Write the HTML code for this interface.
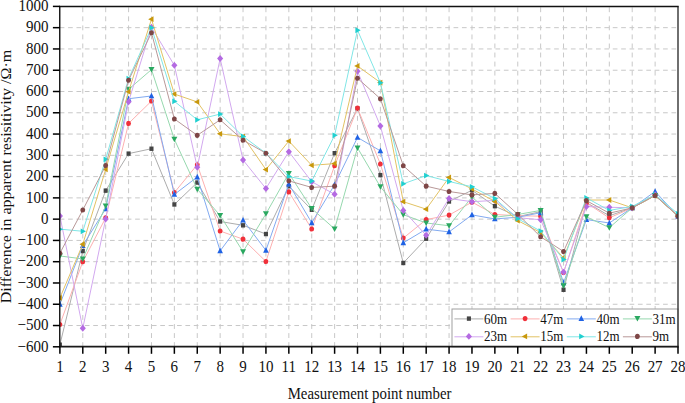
<!DOCTYPE html><html><head><meta charset="utf-8"><style>html,body{margin:0;padding:0;background:#fff;}svg{display:block;}text{font-family:"Liberation Serif",serif;fill:#111;}</style></head><body><svg width="685" height="403" viewBox="0 0 685 403"><rect width="685" height="403" fill="#fff"/><g stroke="#c8c8c8" stroke-width="1" stroke-dasharray="4.9 4.15"><line x1="82.79" y1="7.3" x2="82.79" y2="346.80"/><line x1="105.69" y1="7.3" x2="105.69" y2="346.80"/><line x1="128.58" y1="7.3" x2="128.58" y2="346.80"/><line x1="151.47" y1="7.3" x2="151.47" y2="346.80"/><line x1="174.36" y1="7.3" x2="174.36" y2="346.80"/><line x1="197.26" y1="7.3" x2="197.26" y2="346.80"/><line x1="220.15" y1="7.3" x2="220.15" y2="346.80"/><line x1="243.04" y1="7.3" x2="243.04" y2="346.80"/><line x1="265.93" y1="7.3" x2="265.93" y2="346.80"/><line x1="288.83" y1="7.3" x2="288.83" y2="346.80"/><line x1="311.72" y1="7.3" x2="311.72" y2="346.80"/><line x1="334.61" y1="7.3" x2="334.61" y2="346.80"/><line x1="357.50" y1="7.3" x2="357.50" y2="346.80"/><line x1="380.40" y1="7.3" x2="380.40" y2="346.80"/><line x1="403.29" y1="7.3" x2="403.29" y2="346.80"/><line x1="426.18" y1="7.3" x2="426.18" y2="346.80"/><line x1="449.07" y1="7.3" x2="449.07" y2="346.80"/><line x1="471.97" y1="7.3" x2="471.97" y2="346.80"/><line x1="494.86" y1="7.3" x2="494.86" y2="346.80"/><line x1="517.75" y1="7.3" x2="517.75" y2="346.80"/><line x1="540.64" y1="7.3" x2="540.64" y2="346.80"/><line x1="563.54" y1="7.3" x2="563.54" y2="346.80"/><line x1="586.43" y1="7.3" x2="586.43" y2="346.80"/><line x1="609.32" y1="7.3" x2="609.32" y2="346.80"/><line x1="632.21" y1="7.3" x2="632.21" y2="346.80"/><line x1="655.11" y1="7.3" x2="655.11" y2="346.80"/></g><g stroke="#c8c8c8" stroke-width="1" stroke-dasharray="4.7 3.68"><line x1="59.7" y1="325.53" x2="678.00" y2="325.53"/><line x1="59.7" y1="304.25" x2="678.00" y2="304.25"/><line x1="59.7" y1="282.98" x2="678.00" y2="282.98"/><line x1="59.7" y1="261.70" x2="678.00" y2="261.70"/><line x1="59.7" y1="240.43" x2="678.00" y2="240.43"/><line x1="59.7" y1="219.15" x2="678.00" y2="219.15"/><line x1="59.7" y1="197.88" x2="678.00" y2="197.88"/><line x1="59.7" y1="176.60" x2="678.00" y2="176.60"/><line x1="59.7" y1="155.33" x2="678.00" y2="155.33"/><line x1="59.7" y1="134.05" x2="678.00" y2="134.05"/><line x1="59.7" y1="112.78" x2="678.00" y2="112.78"/><line x1="59.7" y1="91.50" x2="678.00" y2="91.50"/><line x1="59.7" y1="70.23" x2="678.00" y2="70.23"/><line x1="59.7" y1="48.95" x2="678.00" y2="48.95"/><line x1="59.7" y1="27.67" x2="678.00" y2="27.67"/></g><defs><clipPath id="pc"><rect x="59.9" y="6.4" width="618.10" height="340.40"/></clipPath></defs><g clip-path="url(#pc)"><polyline points="59.90,344.67 82.79,251.06 105.69,190.64 128.58,153.62 151.47,148.73 174.36,204.47 197.26,182.56 220.15,221.49 243.04,225.32 265.93,234.04 288.83,186.17 311.72,209.79 334.61,153.20 357.50,108.52 380.40,175.11 403.29,262.98 426.18,238.72 449.07,201.49 471.97,190.22 494.86,206.17 517.75,216.60 540.64,211.70 563.54,289.78 586.43,202.56 609.32,215.75 632.21,207.87 655.11,195.53 678.00,216.17" fill="none" stroke="#acacac" stroke-width="1"/><rect x="57.85" y="342.47" width="4.10" height="4.40" fill="#444444"/><rect x="80.74" y="248.86" width="4.10" height="4.40" fill="#444444"/><rect x="103.64" y="188.44" width="4.10" height="4.40" fill="#444444"/><rect x="126.53" y="151.42" width="4.10" height="4.40" fill="#444444"/><rect x="149.42" y="146.53" width="4.10" height="4.40" fill="#444444"/><rect x="172.31" y="202.27" width="4.10" height="4.40" fill="#444444"/><rect x="195.21" y="180.36" width="4.10" height="4.40" fill="#444444"/><rect x="218.10" y="219.29" width="4.10" height="4.40" fill="#444444"/><rect x="240.99" y="223.12" width="4.10" height="4.40" fill="#444444"/><rect x="263.88" y="231.84" width="4.10" height="4.40" fill="#444444"/><rect x="286.78" y="183.97" width="4.10" height="4.40" fill="#444444"/><rect x="309.67" y="207.59" width="4.10" height="4.40" fill="#444444"/><rect x="332.56" y="151.00" width="4.10" height="4.40" fill="#444444"/><rect x="355.45" y="106.32" width="4.10" height="4.40" fill="#444444"/><rect x="378.35" y="172.91" width="4.10" height="4.40" fill="#444444"/><rect x="401.24" y="260.78" width="4.10" height="4.40" fill="#444444"/><rect x="424.13" y="236.52" width="4.10" height="4.40" fill="#444444"/><rect x="447.02" y="199.29" width="4.10" height="4.40" fill="#444444"/><rect x="469.92" y="188.02" width="4.10" height="4.40" fill="#444444"/><rect x="492.81" y="203.97" width="4.10" height="4.40" fill="#444444"/><rect x="515.70" y="214.40" width="4.10" height="4.40" fill="#444444"/><rect x="538.59" y="209.50" width="4.10" height="4.40" fill="#444444"/><rect x="561.49" y="287.58" width="4.10" height="4.40" fill="#444444"/><rect x="584.38" y="200.36" width="4.10" height="4.40" fill="#444444"/><rect x="607.27" y="213.55" width="4.10" height="4.40" fill="#444444"/><rect x="630.16" y="205.67" width="4.10" height="4.40" fill="#444444"/><rect x="653.06" y="193.33" width="4.10" height="4.40" fill="#444444"/><rect x="675.95" y="213.97" width="4.10" height="4.40" fill="#444444"/><polyline points="59.90,324.46 82.79,261.70 105.69,217.87 128.58,123.41 151.47,101.07 174.36,192.56 197.26,164.69 220.15,231.06 243.04,239.15 265.93,261.49 288.83,191.92 311.72,228.94 334.61,165.75 357.50,108.09 380.40,164.05 403.29,238.08 426.18,219.58 449.07,215.11 471.97,202.13 494.86,214.47 517.75,215.75 540.64,216.17 563.54,272.55 586.43,202.98 609.32,217.87 632.21,207.87 655.11,195.53 678.00,216.17" fill="none" stroke="#fdb0b0" stroke-width="1"/><ellipse cx="59.90" cy="324.46" rx="2.40" ry="2.55" fill="#f0303a"/><ellipse cx="82.79" cy="261.70" rx="2.40" ry="2.55" fill="#f0303a"/><ellipse cx="105.69" cy="217.87" rx="2.40" ry="2.55" fill="#f0303a"/><ellipse cx="128.58" cy="123.41" rx="2.40" ry="2.55" fill="#f0303a"/><ellipse cx="151.47" cy="101.07" rx="2.40" ry="2.55" fill="#f0303a"/><ellipse cx="174.36" cy="192.56" rx="2.40" ry="2.55" fill="#f0303a"/><ellipse cx="197.26" cy="164.69" rx="2.40" ry="2.55" fill="#f0303a"/><ellipse cx="220.15" cy="231.06" rx="2.40" ry="2.55" fill="#f0303a"/><ellipse cx="243.04" cy="239.15" rx="2.40" ry="2.55" fill="#f0303a"/><ellipse cx="265.93" cy="261.49" rx="2.40" ry="2.55" fill="#f0303a"/><ellipse cx="288.83" cy="191.92" rx="2.40" ry="2.55" fill="#f0303a"/><ellipse cx="311.72" cy="228.94" rx="2.40" ry="2.55" fill="#f0303a"/><ellipse cx="334.61" cy="165.75" rx="2.40" ry="2.55" fill="#f0303a"/><ellipse cx="357.50" cy="108.09" rx="2.40" ry="2.55" fill="#f0303a"/><ellipse cx="380.40" cy="164.05" rx="2.40" ry="2.55" fill="#f0303a"/><ellipse cx="403.29" cy="238.08" rx="2.40" ry="2.55" fill="#f0303a"/><ellipse cx="426.18" cy="219.58" rx="2.40" ry="2.55" fill="#f0303a"/><ellipse cx="449.07" cy="215.11" rx="2.40" ry="2.55" fill="#f0303a"/><ellipse cx="471.97" cy="202.13" rx="2.40" ry="2.55" fill="#f0303a"/><ellipse cx="494.86" cy="214.47" rx="2.40" ry="2.55" fill="#f0303a"/><ellipse cx="517.75" cy="215.75" rx="2.40" ry="2.55" fill="#f0303a"/><ellipse cx="540.64" cy="216.17" rx="2.40" ry="2.55" fill="#f0303a"/><ellipse cx="563.54" cy="272.55" rx="2.40" ry="2.55" fill="#f0303a"/><ellipse cx="586.43" cy="202.98" rx="2.40" ry="2.55" fill="#f0303a"/><ellipse cx="609.32" cy="217.87" rx="2.40" ry="2.55" fill="#f0303a"/><ellipse cx="632.21" cy="207.87" rx="2.40" ry="2.55" fill="#f0303a"/><ellipse cx="655.11" cy="195.53" rx="2.40" ry="2.55" fill="#f0303a"/><ellipse cx="678.00" cy="216.17" rx="2.40" ry="2.55" fill="#f0303a"/><polyline points="59.90,304.25 82.79,245.53 105.69,208.73 128.58,98.73 151.47,95.97 174.36,194.47 197.26,177.03 220.15,250.85 243.04,220.21 265.93,250.42 288.83,184.05 311.72,222.77 334.61,184.68 357.50,137.45 380.40,150.86 403.29,242.77 426.18,229.15 449.07,231.92 471.97,214.90 494.86,218.94 517.75,217.24 540.64,212.77 563.54,282.76 586.43,219.58 609.32,222.98 632.21,207.87 655.11,191.49 678.00,216.17" fill="none" stroke="#82aaf0" stroke-width="1"/><path d="M59.90 300.95L62.70 306.65L57.10 306.65Z" fill="#1f62e4"/><path d="M82.79 242.23L85.59 247.93L79.99 247.93Z" fill="#1f62e4"/><path d="M105.69 205.43L108.49 211.13L102.89 211.13Z" fill="#1f62e4"/><path d="M128.58 95.43L131.38 101.13L125.78 101.13Z" fill="#1f62e4"/><path d="M151.47 92.67L154.27 98.37L148.67 98.37Z" fill="#1f62e4"/><path d="M174.36 191.17L177.16 196.87L171.56 196.87Z" fill="#1f62e4"/><path d="M197.26 173.73L200.06 179.43L194.46 179.43Z" fill="#1f62e4"/><path d="M220.15 247.55L222.95 253.25L217.35 253.25Z" fill="#1f62e4"/><path d="M243.04 216.91L245.84 222.61L240.24 222.61Z" fill="#1f62e4"/><path d="M265.93 247.12L268.73 252.82L263.13 252.82Z" fill="#1f62e4"/><path d="M288.83 180.75L291.63 186.45L286.03 186.45Z" fill="#1f62e4"/><path d="M311.72 219.47L314.52 225.17L308.92 225.17Z" fill="#1f62e4"/><path d="M334.61 181.38L337.41 187.08L331.81 187.08Z" fill="#1f62e4"/><path d="M357.50 134.15L360.30 139.85L354.70 139.85Z" fill="#1f62e4"/><path d="M380.40 147.56L383.20 153.26L377.60 153.26Z" fill="#1f62e4"/><path d="M403.29 239.47L406.09 245.17L400.49 245.17Z" fill="#1f62e4"/><path d="M426.18 225.85L428.98 231.55L423.38 231.55Z" fill="#1f62e4"/><path d="M449.07 228.62L451.87 234.32L446.27 234.32Z" fill="#1f62e4"/><path d="M471.97 211.60L474.77 217.30L469.17 217.30Z" fill="#1f62e4"/><path d="M494.86 215.64L497.66 221.34L492.06 221.34Z" fill="#1f62e4"/><path d="M517.75 213.94L520.55 219.64L514.95 219.64Z" fill="#1f62e4"/><path d="M540.64 209.47L543.44 215.17L537.84 215.17Z" fill="#1f62e4"/><path d="M563.54 279.46L566.34 285.16L560.74 285.16Z" fill="#1f62e4"/><path d="M586.43 216.28L589.23 221.98L583.63 221.98Z" fill="#1f62e4"/><path d="M609.32 219.68L612.12 225.38L606.52 225.38Z" fill="#1f62e4"/><path d="M632.21 204.57L635.01 210.27L629.41 210.27Z" fill="#1f62e4"/><path d="M655.11 188.19L657.91 193.89L652.31 193.89Z" fill="#1f62e4"/><path d="M678.00 212.87L680.80 218.57L675.20 218.57Z" fill="#1f62e4"/><polyline points="59.90,255.96 82.79,258.93 105.69,205.96 128.58,89.37 151.47,69.59 174.36,139.37 197.26,189.15 220.15,215.53 243.04,251.70 265.93,213.83 288.83,173.41 311.72,208.51 334.61,228.94 357.50,147.88 380.40,186.81 403.29,214.68 426.18,222.98 449.07,225.75 471.97,197.02 494.86,217.24 517.75,214.47 540.64,210.43 563.54,285.74 586.43,216.81 609.32,227.66 632.21,207.87 655.11,195.53 678.00,216.17" fill="none" stroke="#96d8ae" stroke-width="1"/><path d="M59.90 258.96L62.90 253.46L56.90 253.46Z" fill="#2aa860"/><path d="M82.79 261.93L85.79 256.43L79.79 256.43Z" fill="#2aa860"/><path d="M105.69 208.96L108.69 203.46L102.69 203.46Z" fill="#2aa860"/><path d="M128.58 92.37L131.58 86.87L125.58 86.87Z" fill="#2aa860"/><path d="M151.47 72.59L154.47 67.09L148.47 67.09Z" fill="#2aa860"/><path d="M174.36 142.37L177.36 136.87L171.36 136.87Z" fill="#2aa860"/><path d="M197.26 192.15L200.26 186.65L194.26 186.65Z" fill="#2aa860"/><path d="M220.15 218.53L223.15 213.03L217.15 213.03Z" fill="#2aa860"/><path d="M243.04 254.70L246.04 249.20L240.04 249.20Z" fill="#2aa860"/><path d="M265.93 216.83L268.93 211.33L262.93 211.33Z" fill="#2aa860"/><path d="M288.83 176.41L291.83 170.91L285.83 170.91Z" fill="#2aa860"/><path d="M311.72 211.51L314.72 206.01L308.72 206.01Z" fill="#2aa860"/><path d="M334.61 231.94L337.61 226.44L331.61 226.44Z" fill="#2aa860"/><path d="M357.50 150.88L360.50 145.38L354.50 145.38Z" fill="#2aa860"/><path d="M380.40 189.81L383.40 184.31L377.40 184.31Z" fill="#2aa860"/><path d="M403.29 217.68L406.29 212.18L400.29 212.18Z" fill="#2aa860"/><path d="M426.18 225.98L429.18 220.48L423.18 220.48Z" fill="#2aa860"/><path d="M449.07 228.75L452.07 223.25L446.07 223.25Z" fill="#2aa860"/><path d="M471.97 200.02L474.97 194.52L468.97 194.52Z" fill="#2aa860"/><path d="M494.86 220.24L497.86 214.74L491.86 214.74Z" fill="#2aa860"/><path d="M517.75 217.47L520.75 211.97L514.75 211.97Z" fill="#2aa860"/><path d="M540.64 213.43L543.64 207.93L537.64 207.93Z" fill="#2aa860"/><path d="M563.54 288.74L566.54 283.24L560.54 283.24Z" fill="#2aa860"/><path d="M586.43 219.81L589.43 214.31L583.43 214.31Z" fill="#2aa860"/><path d="M609.32 230.66L612.32 225.16L606.32 225.16Z" fill="#2aa860"/><path d="M632.21 210.87L635.21 205.37L629.21 205.37Z" fill="#2aa860"/><path d="M655.11 198.53L658.11 193.03L652.11 193.03Z" fill="#2aa860"/><path d="M678.00 219.17L681.00 213.67L675.00 213.67Z" fill="#2aa860"/><polyline points="59.90,215.96 82.79,328.29 105.69,218.94 128.58,101.71 151.47,27.25 174.36,65.33 197.26,167.24 220.15,58.52 243.04,160.01 265.93,188.51 288.83,151.71 311.72,181.71 334.61,194.26 357.50,71.29 380.40,125.97 403.29,210.43 426.18,235.32 449.07,198.51 471.97,201.70 494.86,200.43 517.75,217.66 540.64,219.79 563.54,272.12 586.43,206.60 609.32,207.24 632.21,207.87 655.11,194.68 678.00,216.17" fill="none" stroke="#d2a8ef" stroke-width="1"/><path d="M59.90 212.51L62.95 215.96L59.90 219.41L56.85 215.96Z" fill="#b46ae2"/><path d="M82.79 324.84L85.84 328.29L82.79 331.74L79.74 328.29Z" fill="#b46ae2"/><path d="M105.69 215.49L108.74 218.94L105.69 222.39L102.64 218.94Z" fill="#b46ae2"/><path d="M128.58 98.26L131.63 101.71L128.58 105.16L125.53 101.71Z" fill="#b46ae2"/><path d="M151.47 23.80L154.52 27.25L151.47 30.70L148.42 27.25Z" fill="#b46ae2"/><path d="M174.36 61.88L177.41 65.33L174.36 68.78L171.31 65.33Z" fill="#b46ae2"/><path d="M197.26 163.79L200.31 167.24L197.26 170.69L194.21 167.24Z" fill="#b46ae2"/><path d="M220.15 55.07L223.20 58.52L220.15 61.97L217.10 58.52Z" fill="#b46ae2"/><path d="M243.04 156.56L246.09 160.01L243.04 163.46L239.99 160.01Z" fill="#b46ae2"/><path d="M265.93 185.06L268.98 188.51L265.93 191.96L262.88 188.51Z" fill="#b46ae2"/><path d="M288.83 148.26L291.88 151.71L288.83 155.16L285.78 151.71Z" fill="#b46ae2"/><path d="M311.72 178.26L314.77 181.71L311.72 185.16L308.67 181.71Z" fill="#b46ae2"/><path d="M334.61 190.81L337.66 194.26L334.61 197.71L331.56 194.26Z" fill="#b46ae2"/><path d="M357.50 67.84L360.55 71.29L357.50 74.74L354.45 71.29Z" fill="#b46ae2"/><path d="M380.40 122.52L383.45 125.97L380.40 129.42L377.35 125.97Z" fill="#b46ae2"/><path d="M403.29 206.98L406.34 210.43L403.29 213.88L400.24 210.43Z" fill="#b46ae2"/><path d="M426.18 231.87L429.23 235.32L426.18 238.77L423.13 235.32Z" fill="#b46ae2"/><path d="M449.07 195.06L452.12 198.51L449.07 201.96L446.02 198.51Z" fill="#b46ae2"/><path d="M471.97 198.25L475.02 201.70L471.97 205.15L468.92 201.70Z" fill="#b46ae2"/><path d="M494.86 196.98L497.91 200.43L494.86 203.88L491.81 200.43Z" fill="#b46ae2"/><path d="M517.75 214.21L520.80 217.66L517.75 221.11L514.70 217.66Z" fill="#b46ae2"/><path d="M540.64 216.34L543.69 219.79L540.64 223.24L537.59 219.79Z" fill="#b46ae2"/><path d="M563.54 268.67L566.59 272.12L563.54 275.57L560.49 272.12Z" fill="#b46ae2"/><path d="M586.43 203.15L589.48 206.60L586.43 210.05L583.38 206.60Z" fill="#b46ae2"/><path d="M609.32 203.79L612.37 207.24L609.32 210.69L606.27 207.24Z" fill="#b46ae2"/><path d="M632.21 204.42L635.26 207.87L632.21 211.32L629.16 207.87Z" fill="#b46ae2"/><path d="M655.11 191.23L658.16 194.68L655.11 198.13L652.06 194.68Z" fill="#b46ae2"/><path d="M678.00 212.72L681.05 216.17L678.00 219.62L674.95 216.17Z" fill="#b46ae2"/><polyline points="59.90,297.87 82.79,244.25 105.69,169.37 128.58,91.71 151.47,19.17 174.36,94.05 197.26,101.92 220.15,133.84 243.04,136.60 265.93,169.58 288.83,141.07 311.72,165.32 334.61,163.62 357.50,65.97 380.40,82.56 403.29,201.70 426.18,209.15 449.07,177.45 471.97,188.94 494.86,201.49 517.75,220.64 540.64,232.55 563.54,257.87 586.43,200.00 609.32,200.00 632.21,207.87 655.11,195.53 678.00,216.17" fill="none" stroke="#e2c264" stroke-width="1"/><path d="M56.60 297.87L61.90 294.97L61.90 300.77Z" fill="#c8980c"/><path d="M79.49 244.25L84.79 241.35L84.79 247.15Z" fill="#c8980c"/><path d="M102.39 169.37L107.69 166.47L107.69 172.27Z" fill="#c8980c"/><path d="M125.28 91.71L130.58 88.81L130.58 94.61Z" fill="#c8980c"/><path d="M148.17 19.17L153.47 16.27L153.47 22.07Z" fill="#c8980c"/><path d="M171.06 94.05L176.36 91.15L176.36 96.95Z" fill="#c8980c"/><path d="M193.96 101.92L199.26 99.02L199.26 104.82Z" fill="#c8980c"/><path d="M216.85 133.84L222.15 130.94L222.15 136.74Z" fill="#c8980c"/><path d="M239.74 136.60L245.04 133.70L245.04 139.50Z" fill="#c8980c"/><path d="M262.63 169.58L267.93 166.68L267.93 172.48Z" fill="#c8980c"/><path d="M285.53 141.07L290.83 138.17L290.83 143.97Z" fill="#c8980c"/><path d="M308.42 165.32L313.72 162.42L313.72 168.22Z" fill="#c8980c"/><path d="M331.31 163.62L336.61 160.72L336.61 166.52Z" fill="#c8980c"/><path d="M354.20 65.97L359.50 63.07L359.50 68.87Z" fill="#c8980c"/><path d="M377.10 82.56L382.40 79.66L382.40 85.46Z" fill="#c8980c"/><path d="M399.99 201.70L405.29 198.80L405.29 204.60Z" fill="#c8980c"/><path d="M422.88 209.15L428.18 206.25L428.18 212.05Z" fill="#c8980c"/><path d="M445.77 177.45L451.07 174.55L451.07 180.35Z" fill="#c8980c"/><path d="M468.67 188.94L473.97 186.04L473.97 191.84Z" fill="#c8980c"/><path d="M491.56 201.49L496.86 198.59L496.86 204.39Z" fill="#c8980c"/><path d="M514.45 220.64L519.75 217.74L519.75 223.54Z" fill="#c8980c"/><path d="M537.34 232.55L542.64 229.65L542.64 235.45Z" fill="#c8980c"/><path d="M560.24 257.87L565.54 254.97L565.54 260.77Z" fill="#c8980c"/><path d="M583.13 200.00L588.43 197.10L588.43 202.90Z" fill="#c8980c"/><path d="M606.02 200.00L611.32 197.10L611.32 202.90Z" fill="#c8980c"/><path d="M628.91 207.87L634.21 204.97L634.21 210.77Z" fill="#c8980c"/><path d="M651.81 195.53L657.11 192.63L657.11 198.43Z" fill="#c8980c"/><path d="M674.70 216.17L680.00 213.27L680.00 219.07Z" fill="#c8980c"/><polyline points="59.90,229.15 82.79,231.28 105.69,159.37 128.58,78.74 151.47,27.67 174.36,101.29 197.26,119.80 220.15,114.05 243.04,136.39 265.93,153.20 288.83,176.60 311.72,181.07 334.61,135.33 357.50,30.23 380.40,82.78 403.29,183.83 426.18,175.54 449.07,181.49 471.97,186.81 494.86,198.51 517.75,218.72 540.64,231.06 563.54,259.57 586.43,197.88 609.32,210.43 632.21,206.39 655.11,194.68 678.00,213.83" fill="none" stroke="#80e6e6" stroke-width="1"/><path d="M63.10 229.15L57.80 226.25L57.80 232.05Z" fill="#20d0d0"/><path d="M85.99 231.28L80.69 228.38L80.69 234.18Z" fill="#20d0d0"/><path d="M108.89 159.37L103.59 156.47L103.59 162.27Z" fill="#20d0d0"/><path d="M131.78 78.74L126.48 75.84L126.48 81.64Z" fill="#20d0d0"/><path d="M154.67 27.67L149.37 24.77L149.37 30.57Z" fill="#20d0d0"/><path d="M177.56 101.29L172.26 98.39L172.26 104.19Z" fill="#20d0d0"/><path d="M200.46 119.80L195.16 116.90L195.16 122.70Z" fill="#20d0d0"/><path d="M223.35 114.05L218.05 111.15L218.05 116.95Z" fill="#20d0d0"/><path d="M246.24 136.39L240.94 133.49L240.94 139.29Z" fill="#20d0d0"/><path d="M269.13 153.20L263.83 150.30L263.83 156.10Z" fill="#20d0d0"/><path d="M292.03 176.60L286.73 173.70L286.73 179.50Z" fill="#20d0d0"/><path d="M314.92 181.07L309.62 178.17L309.62 183.97Z" fill="#20d0d0"/><path d="M337.81 135.33L332.51 132.43L332.51 138.23Z" fill="#20d0d0"/><path d="M360.70 30.23L355.40 27.33L355.40 33.13Z" fill="#20d0d0"/><path d="M383.60 82.78L378.30 79.88L378.30 85.68Z" fill="#20d0d0"/><path d="M406.49 183.83L401.19 180.93L401.19 186.73Z" fill="#20d0d0"/><path d="M429.38 175.54L424.08 172.64L424.08 178.44Z" fill="#20d0d0"/><path d="M452.27 181.49L446.97 178.59L446.97 184.39Z" fill="#20d0d0"/><path d="M475.17 186.81L469.87 183.91L469.87 189.71Z" fill="#20d0d0"/><path d="M498.06 198.51L492.76 195.61L492.76 201.41Z" fill="#20d0d0"/><path d="M520.95 218.72L515.65 215.82L515.65 221.62Z" fill="#20d0d0"/><path d="M543.84 231.06L538.54 228.16L538.54 233.96Z" fill="#20d0d0"/><path d="M566.74 259.57L561.44 256.67L561.44 262.47Z" fill="#20d0d0"/><path d="M589.63 197.88L584.33 194.98L584.33 200.78Z" fill="#20d0d0"/><path d="M612.52 210.43L607.22 207.53L607.22 213.33Z" fill="#20d0d0"/><path d="M635.41 206.39L630.11 203.49L630.11 209.29Z" fill="#20d0d0"/><path d="M658.31 194.68L653.01 191.78L653.01 197.58Z" fill="#20d0d0"/><path d="M681.20 213.83L675.90 210.93L675.90 216.73Z" fill="#20d0d0"/><polyline points="59.90,253.19 82.79,210.00 105.69,165.54 128.58,80.22 151.47,32.78 174.36,118.94 197.26,135.33 220.15,119.80 243.04,140.22 265.93,153.20 288.83,180.86 311.72,187.45 334.61,186.17 357.50,78.31 380.40,98.73 403.29,165.75 426.18,186.17 449.07,191.49 471.97,194.90 494.86,193.41 517.75,214.26 540.64,236.81 563.54,251.49 586.43,200.64 609.32,213.19 632.21,207.87 655.11,195.53 678.00,215.96" fill="none" stroke="#b89898" stroke-width="1"/><ellipse cx="59.90" cy="253.19" rx="2.40" ry="2.55" fill="#7e4646"/><ellipse cx="82.79" cy="210.00" rx="2.40" ry="2.55" fill="#7e4646"/><ellipse cx="105.69" cy="165.54" rx="2.40" ry="2.55" fill="#7e4646"/><ellipse cx="128.58" cy="80.22" rx="2.40" ry="2.55" fill="#7e4646"/><ellipse cx="151.47" cy="32.78" rx="2.40" ry="2.55" fill="#7e4646"/><ellipse cx="174.36" cy="118.94" rx="2.40" ry="2.55" fill="#7e4646"/><ellipse cx="197.26" cy="135.33" rx="2.40" ry="2.55" fill="#7e4646"/><ellipse cx="220.15" cy="119.80" rx="2.40" ry="2.55" fill="#7e4646"/><ellipse cx="243.04" cy="140.22" rx="2.40" ry="2.55" fill="#7e4646"/><ellipse cx="265.93" cy="153.20" rx="2.40" ry="2.55" fill="#7e4646"/><ellipse cx="288.83" cy="180.86" rx="2.40" ry="2.55" fill="#7e4646"/><ellipse cx="311.72" cy="187.45" rx="2.40" ry="2.55" fill="#7e4646"/><ellipse cx="334.61" cy="186.17" rx="2.40" ry="2.55" fill="#7e4646"/><ellipse cx="357.50" cy="78.31" rx="2.40" ry="2.55" fill="#7e4646"/><ellipse cx="380.40" cy="98.73" rx="2.40" ry="2.55" fill="#7e4646"/><ellipse cx="403.29" cy="165.75" rx="2.40" ry="2.55" fill="#7e4646"/><ellipse cx="426.18" cy="186.17" rx="2.40" ry="2.55" fill="#7e4646"/><ellipse cx="449.07" cy="191.49" rx="2.40" ry="2.55" fill="#7e4646"/><ellipse cx="471.97" cy="194.90" rx="2.40" ry="2.55" fill="#7e4646"/><ellipse cx="494.86" cy="193.41" rx="2.40" ry="2.55" fill="#7e4646"/><ellipse cx="517.75" cy="214.26" rx="2.40" ry="2.55" fill="#7e4646"/><ellipse cx="540.64" cy="236.81" rx="2.40" ry="2.55" fill="#7e4646"/><ellipse cx="563.54" cy="251.49" rx="2.40" ry="2.55" fill="#7e4646"/><ellipse cx="586.43" cy="200.64" rx="2.40" ry="2.55" fill="#7e4646"/><ellipse cx="609.32" cy="213.19" rx="2.40" ry="2.55" fill="#7e4646"/><ellipse cx="632.21" cy="207.87" rx="2.40" ry="2.55" fill="#7e4646"/><ellipse cx="655.11" cy="195.53" rx="2.40" ry="2.55" fill="#7e4646"/><ellipse cx="678.00" cy="215.96" rx="2.40" ry="2.55" fill="#7e4646"/></g><rect x="452.0" y="309.0" width="226.00" height="37.80" fill="#fff" stroke="#a0a0a0" stroke-width="1"/><line x1="454.40" y1="318.90" x2="483.40" y2="318.90" stroke="#acacac" stroke-width="1"/><rect x="466.85" y="316.40" width="4.10" height="4.40" fill="#444444"/><text transform="translate(484.10,323.50) scale(1,1.15)" font-size="13">60m</text><line x1="510.60" y1="318.90" x2="539.60" y2="318.90" stroke="#fdb0b0" stroke-width="1"/><ellipse cx="525.10" cy="318.60" rx="2.40" ry="2.55" fill="#f0303a"/><text transform="translate(540.30,323.50) scale(1,1.15)" font-size="13">47m</text><line x1="566.80" y1="318.90" x2="595.80" y2="318.90" stroke="#82aaf0" stroke-width="1"/><path d="M581.30 315.30L584.10 321.00L578.50 321.00Z" fill="#1f62e4"/><text transform="translate(596.50,323.50) scale(1,1.15)" font-size="13">40m</text><line x1="622.90" y1="318.90" x2="651.90" y2="318.90" stroke="#96d8ae" stroke-width="1"/><path d="M637.40 321.60L640.40 316.10L634.40 316.10Z" fill="#2aa860"/><text transform="translate(652.60,323.50) scale(1,1.15)" font-size="13">31m</text><line x1="454.40" y1="336.80" x2="483.40" y2="336.80" stroke="#d2a8ef" stroke-width="1"/><path d="M468.90 332.95L471.95 336.40L468.90 339.85L465.85 336.40Z" fill="#b46ae2"/><text transform="translate(484.10,341.30) scale(1,1.15)" font-size="13">23m</text><line x1="510.60" y1="336.80" x2="539.60" y2="336.80" stroke="#e2c264" stroke-width="1"/><path d="M521.80 336.40L527.10 333.50L527.10 339.30Z" fill="#c8980c"/><text transform="translate(540.30,341.30) scale(1,1.15)" font-size="13">15m</text><line x1="566.80" y1="336.80" x2="595.80" y2="336.80" stroke="#80e6e6" stroke-width="1"/><path d="M584.50 336.40L579.20 333.50L579.20 339.30Z" fill="#20d0d0"/><text transform="translate(596.50,341.30) scale(1,1.15)" font-size="13">12m</text><line x1="622.90" y1="336.80" x2="651.90" y2="336.80" stroke="#b89898" stroke-width="1"/><ellipse cx="637.40" cy="336.40" rx="2.40" ry="2.55" fill="#7e4646"/><text transform="translate(652.60,341.30) scale(1,1.15)" font-size="13">9m</text><line x1="59.75" y1="6.40" x2="59.75" y2="346.80" stroke="#111" stroke-width="1.4"/><line x1="678.0" y1="6.40" x2="678.0" y2="346.80" stroke="#333" stroke-width="1.4"/><line x1="58.9" y1="6.40" x2="678.7" y2="6.40" stroke="#111" stroke-width="1.5"/><line x1="58.9" y1="346.6" x2="678.7" y2="346.6" stroke="#1a1a1a" stroke-width="1.6"/><g stroke="#000" stroke-width="1.5"><line x1="52.90" y1="346.80" x2="59.90" y2="346.80"/><line x1="52.90" y1="325.53" x2="59.90" y2="325.53"/><line x1="52.90" y1="304.25" x2="59.90" y2="304.25"/><line x1="52.90" y1="282.98" x2="59.90" y2="282.98"/><line x1="52.90" y1="261.70" x2="59.90" y2="261.70"/><line x1="52.90" y1="240.43" x2="59.90" y2="240.43"/><line x1="52.90" y1="219.15" x2="59.90" y2="219.15"/><line x1="52.90" y1="197.88" x2="59.90" y2="197.88"/><line x1="52.90" y1="176.60" x2="59.90" y2="176.60"/><line x1="52.90" y1="155.33" x2="59.90" y2="155.33"/><line x1="52.90" y1="134.05" x2="59.90" y2="134.05"/><line x1="52.90" y1="112.78" x2="59.90" y2="112.78"/><line x1="52.90" y1="91.50" x2="59.90" y2="91.50"/><line x1="52.90" y1="70.23" x2="59.90" y2="70.23"/><line x1="52.90" y1="48.95" x2="59.90" y2="48.95"/><line x1="52.90" y1="27.67" x2="59.90" y2="27.67"/><line x1="52.90" y1="6.40" x2="59.90" y2="6.40"/><line x1="59.90" y1="346.80" x2="59.90" y2="353.80"/><line x1="82.79" y1="346.80" x2="82.79" y2="353.80"/><line x1="105.69" y1="346.80" x2="105.69" y2="353.80"/><line x1="128.58" y1="346.80" x2="128.58" y2="353.80"/><line x1="151.47" y1="346.80" x2="151.47" y2="353.80"/><line x1="174.36" y1="346.80" x2="174.36" y2="353.80"/><line x1="197.26" y1="346.80" x2="197.26" y2="353.80"/><line x1="220.15" y1="346.80" x2="220.15" y2="353.80"/><line x1="243.04" y1="346.80" x2="243.04" y2="353.80"/><line x1="265.93" y1="346.80" x2="265.93" y2="353.80"/><line x1="288.83" y1="346.80" x2="288.83" y2="353.80"/><line x1="311.72" y1="346.80" x2="311.72" y2="353.80"/><line x1="334.61" y1="346.80" x2="334.61" y2="353.80"/><line x1="357.50" y1="346.80" x2="357.50" y2="353.80"/><line x1="380.40" y1="346.80" x2="380.40" y2="353.80"/><line x1="403.29" y1="346.80" x2="403.29" y2="353.80"/><line x1="426.18" y1="346.80" x2="426.18" y2="353.80"/><line x1="449.07" y1="346.80" x2="449.07" y2="353.80"/><line x1="471.97" y1="346.80" x2="471.97" y2="353.80"/><line x1="494.86" y1="346.80" x2="494.86" y2="353.80"/><line x1="517.75" y1="346.80" x2="517.75" y2="353.80"/><line x1="540.64" y1="346.80" x2="540.64" y2="353.80"/><line x1="563.54" y1="346.80" x2="563.54" y2="353.80"/><line x1="586.43" y1="346.80" x2="586.43" y2="353.80"/><line x1="609.32" y1="346.80" x2="609.32" y2="353.80"/><line x1="632.21" y1="346.80" x2="632.21" y2="353.80"/><line x1="655.11" y1="346.80" x2="655.11" y2="353.80"/><line x1="678.00" y1="346.80" x2="678.00" y2="353.80"/></g><text transform="translate(48.4,351.50) scale(1,1.11)" font-size="15" text-anchor="end">−600</text><text transform="translate(48.4,330.23) scale(1,1.11)" font-size="15" text-anchor="end">−500</text><text transform="translate(48.4,308.95) scale(1,1.11)" font-size="15" text-anchor="end">−400</text><text transform="translate(48.4,287.68) scale(1,1.11)" font-size="15" text-anchor="end">−300</text><text transform="translate(48.4,266.40) scale(1,1.11)" font-size="15" text-anchor="end">−200</text><text transform="translate(48.4,245.13) scale(1,1.11)" font-size="15" text-anchor="end">−100</text><text transform="translate(48.4,223.85) scale(1,1.11)" font-size="15" text-anchor="end">0</text><text transform="translate(48.4,202.58) scale(1,1.11)" font-size="15" text-anchor="end">100</text><text transform="translate(48.4,181.30) scale(1,1.11)" font-size="15" text-anchor="end">200</text><text transform="translate(48.4,160.03) scale(1,1.11)" font-size="15" text-anchor="end">300</text><text transform="translate(48.4,138.75) scale(1,1.11)" font-size="15" text-anchor="end">400</text><text transform="translate(48.4,117.48) scale(1,1.11)" font-size="15" text-anchor="end">500</text><text transform="translate(48.4,96.20) scale(1,1.11)" font-size="15" text-anchor="end">600</text><text transform="translate(48.4,74.93) scale(1,1.11)" font-size="15" text-anchor="end">700</text><text transform="translate(48.4,53.65) scale(1,1.11)" font-size="15" text-anchor="end">800</text><text transform="translate(48.4,32.38) scale(1,1.11)" font-size="15" text-anchor="end">900</text><text transform="translate(48.4,11.10) scale(1,1.11)" font-size="15" text-anchor="end">1000</text><text transform="translate(59.90,371.6) scale(1,1.11)" font-size="15" text-anchor="middle">1</text><text transform="translate(82.79,371.6) scale(1,1.11)" font-size="15" text-anchor="middle">2</text><text transform="translate(105.69,371.6) scale(1,1.11)" font-size="15" text-anchor="middle">3</text><text transform="translate(128.58,371.6) scale(1,1.11)" font-size="15" text-anchor="middle">4</text><text transform="translate(151.47,371.6) scale(1,1.11)" font-size="15" text-anchor="middle">5</text><text transform="translate(174.36,371.6) scale(1,1.11)" font-size="15" text-anchor="middle">6</text><text transform="translate(197.26,371.6) scale(1,1.11)" font-size="15" text-anchor="middle">7</text><text transform="translate(220.15,371.6) scale(1,1.11)" font-size="15" text-anchor="middle">8</text><text transform="translate(243.04,371.6) scale(1,1.11)" font-size="15" text-anchor="middle">9</text><text transform="translate(265.93,371.6) scale(1,1.11)" font-size="15" text-anchor="middle">10</text><text transform="translate(288.83,371.6) scale(1,1.11)" font-size="15" text-anchor="middle">11</text><text transform="translate(311.72,371.6) scale(1,1.11)" font-size="15" text-anchor="middle">12</text><text transform="translate(334.61,371.6) scale(1,1.11)" font-size="15" text-anchor="middle">13</text><text transform="translate(357.50,371.6) scale(1,1.11)" font-size="15" text-anchor="middle">14</text><text transform="translate(380.40,371.6) scale(1,1.11)" font-size="15" text-anchor="middle">15</text><text transform="translate(403.29,371.6) scale(1,1.11)" font-size="15" text-anchor="middle">16</text><text transform="translate(426.18,371.6) scale(1,1.11)" font-size="15" text-anchor="middle">17</text><text transform="translate(449.07,371.6) scale(1,1.11)" font-size="15" text-anchor="middle">18</text><text transform="translate(471.97,371.6) scale(1,1.11)" font-size="15" text-anchor="middle">19</text><text transform="translate(494.86,371.6) scale(1,1.11)" font-size="15" text-anchor="middle">20</text><text transform="translate(517.75,371.6) scale(1,1.11)" font-size="15" text-anchor="middle">21</text><text transform="translate(540.64,371.6) scale(1,1.11)" font-size="15" text-anchor="middle">22</text><text transform="translate(563.54,371.6) scale(1,1.11)" font-size="15" text-anchor="middle">23</text><text transform="translate(586.43,371.6) scale(1,1.11)" font-size="15" text-anchor="middle">24</text><text transform="translate(609.32,371.6) scale(1,1.11)" font-size="15" text-anchor="middle">25</text><text transform="translate(632.21,371.6) scale(1,1.11)" font-size="15" text-anchor="middle">26</text><text transform="translate(655.11,371.6) scale(1,1.11)" font-size="15" text-anchor="middle">27</text><text transform="translate(678.00,371.6) scale(1,1.11)" font-size="15" text-anchor="middle">28</text><text transform="translate(369.6,398.8) scale(0.99,1.08)" font-size="15" text-anchor="middle">Measurement point number</text><text transform="translate(10.7,176.5) rotate(-90) scale(1.145,1)" font-size="14" text-anchor="middle">Difference in apparent resisitivity /Ω·m</text></svg></body></html>
